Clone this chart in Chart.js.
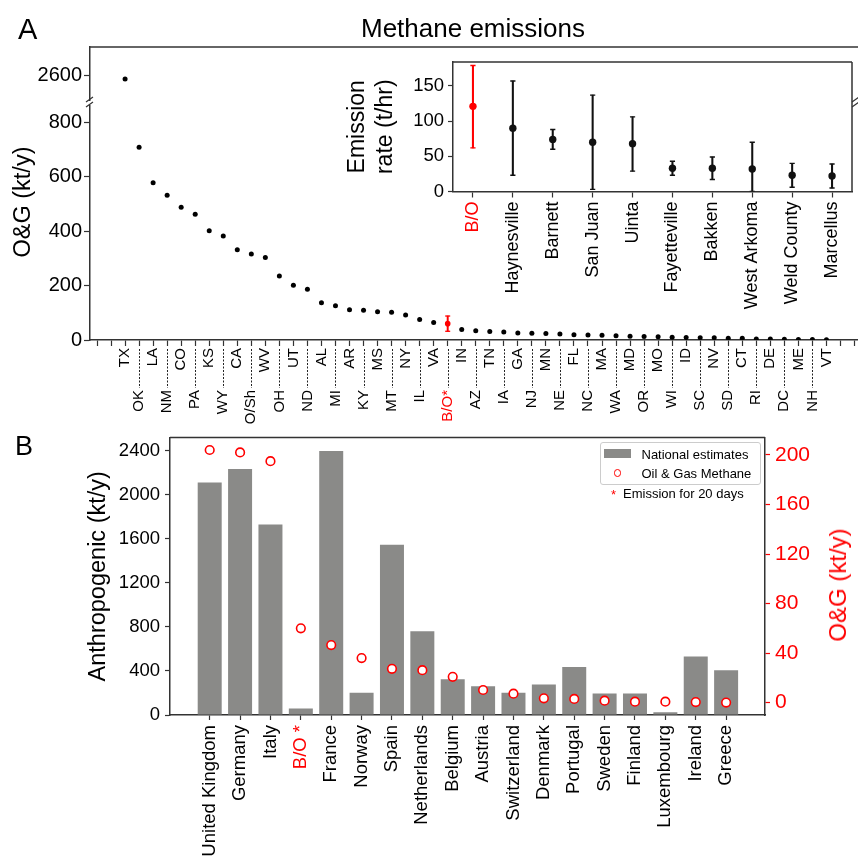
<!DOCTYPE html>
<html>
<head>
<meta charset="utf-8">
<script src="https://cdn.jsdelivr.net/npm/chart.js@4.4.0/dist/chart.umd.min.js"></script>
<style>
html,body{margin:0;padding:0;background:#fff;}
#wrap{position:relative;width:858px;height:867px;overflow:hidden;font-family:'Liberation Sans',Arial,sans-serif;color:#000;background:#fff;}
canvas{position:absolute;}
.lbl{position:absolute;white-space:nowrap;line-height:1;}
.rot{position:absolute;white-space:nowrap;line-height:1;transform:translate(-50%,-50%) rotate(-90deg);}
</style>
</head>
<body>
<div id="wrap">
  <canvas id="cA" width="858" height="430" style="left:0;top:0"></canvas>
  <canvas id="cIn" width="528" height="280" style="left:330px;top:40px"></canvas>
  <canvas id="cB" width="858" height="447" style="left:0;top:420px"></canvas>

  <div class="lbl" style="left:18px;top:14.5px;font-size:29px">A</div>
  <div class="lbl" style="left:361px;top:15.3px;font-size:26px">Methane emissions</div>
  <div class="rot" style="left:23px;top:202px;font-size:23.5px">O&amp;G (kt/y)</div>

  <div class="lbl" style="left:15px;top:433px;font-size:27px">B</div>
  <div class="rot" style="left:838px;top:585px;font-size:24px;color:#ff0000">O&amp;G (kt/y)</div>

  <div style="position:absolute;left:599.5px;top:442px;width:159px;height:41px;border:1px solid #cccccc;border-radius:3px;background:rgba(255,255,255,0.85)"></div>
  <div style="position:absolute;left:604px;top:448.5px;width:26.5px;height:9px;background:#8a8a88"></div>
  <div class="lbl" style="left:641.5px;top:447.5px;font-size:13px">National estimates</div>
  <div style="position:absolute;left:613.8px;top:469.3px;width:5.6px;height:5.6px;border:1.6px solid #ff0000;border-radius:50%"></div>
  <div class="lbl" style="left:641.5px;top:467px;font-size:13px">Oil &amp; Gas Methane</div>
  <div class="lbl" style="left:611px;top:488px;font-size:13px;color:#ff0000">*</div>
  <div class="lbl" style="left:623px;top:487.3px;font-size:13px">Emission for 20 days</div>
</div>

<script>
// ---------------- DATA ----------------
// Panel A: O&G methane emissions by US state (kt/y)
const usStates = ['TX','OK','LA','NM','CO','PA','KS','WY','CA','O/Sh','WV','OH','UT','ND','AL','MI','AR','KY','MS','MT','NY','IL','VA','B/O*','IN','AZ','TN','IA','GA','NJ','MN','NE','FL','NC','MA','WA','MD','OR','MO','WI','ID','SC','NV','SD','CT','RI','DE','DC','ME','NH','VT'];
const usValues = [2585,708,577,531,487,462,401,382,331,316,303,235,201,186,137,126,111,109,104,102,92,75,64,60,39,34,31,29,26,25,24,22,19,18,17,16,14,13,12,10,9,8.5,8,6.5,6,4,3.5,2.5,2.2,1.5,1.2];
const boRangeA = [32, 88];
const lowerTicksA = [0, 200, 400, 600, 800];
const upperTicksA = [2600];

// Panel A inset: emission rate by basin (t/hr)
const basins = ['B/O','Haynesville','Barnett','San Juan','Uinta','Fayetteville','Bakken','West Arkoma','Weld County','Marcellus'];
const basinRate = [121, 90, 74, 70, 68, 33, 33, 32, 23, 22];
const basinLow  = [62, 23, 60, 3, 29, 23, 17, 0, 6, 5];
const basinHigh = [179, 157, 88, 137, 106, 43, 49, 70, 40, 39];
const insetTicks = [0, 50, 100, 150];

// Panel B: European countries
const countries = ['United Kingdom','Germany','Italy','B/O *','France','Norway','Spain','Netherlands','Belgium','Austria','Switzerland','Denmark','Portugal','Sweden','Finland','Luxembourg','Ireland','Greece'];
const nationalEst = [2112, 2235, 1730, 60, 2398, 201, 1546, 761, 325, 262, 201, 277, 436, 196, 196, 24, 532, 406];
const ogMethane  = [204, 202, 195, 60, 46.5, 36, 27.3, 26.2, 20.8, 10.2, 7.2, 3.5, 3.0, 1.6, 0.8, 0.8, 0.4, 0];
const leftTicksB = [0, 400, 800, 1200, 1600, 2000, 2400];
const rightTicksB = [0, 40, 80, 120, 160, 200];

// ---------------- STYLE ----------------
const RED = '#ff0000';
const INK = '#000000';
const AXIS = '#333333';
const GRAY = '#8a8a88';
Chart.defaults.font.family = "'Liberation Sans', Arial, sans-serif";
Chart.defaults.color = INK;

const plain = (v) => String(v);
const fixedTicks = (list) => (s) => { s.ticks = list.map(v => ({value: v})); };

const framePlugin = {
  id: 'frame',
  afterDraw(chart, args, opts) {
    const sides = opts.sides || [];
    const a = chart.chartArea, ctx = chart.ctx;
    ctx.save();
    ctx.strokeStyle = opts.color || AXIS;
    ctx.lineWidth = opts.width || 1.5;
    ctx.beginPath();
    if (sides.includes('top'))    { ctx.moveTo(a.left, a.top);    ctx.lineTo(a.right, a.top); }
    if (sides.includes('right'))  { ctx.moveTo(a.right, a.top);   ctx.lineTo(a.right, a.bottom); }
    if (sides.includes('bottom')) { ctx.moveTo(a.left, a.bottom); ctx.lineTo(a.right, a.bottom); }
    if (sides.includes('left'))   { ctx.moveTo(a.left, a.top);    ctx.lineTo(a.left, a.bottom); }
    ctx.stroke();
    ctx.restore();
  }
};

const breakPlugin = {
  id: 'breakMarks',
  afterDraw(chart) {
    const y = chart.scales.yLow.top;
    const a = chart.chartArea, ctx = chart.ctx;
    [a.left, a.right - 2].forEach(x => {
      ctx.save();
      ctx.fillStyle = '#fff';
      ctx.fillRect(x - 2, y - 2, 4, 4);
      ctx.strokeStyle = AXIS;
      ctx.lineWidth = 1.2;
      ctx.beginPath();
      ctx.moveTo(x - 4, y - 1); ctx.lineTo(x + 3, y - 6);
      ctx.moveTo(x - 4, y + 4); ctx.lineTo(x + 3, y - 1);
      ctx.stroke();
      ctx.restore();
    });
  }
};

const leaderPlugin = {
  id: 'leaders',
  afterDraw(chart) {
    const xt = chart.scales.xTop, xb = chart.scales.xBot, ctx = chart.ctx;
    ctx.save();
    ctx.strokeStyle = '#222';
    ctx.lineWidth = 1;
    ctx.setLineDash([2, 1.5]);
    ctx.beginPath();
    usStates.forEach((s, i) => {
      if (i % 2 === 1) {
        const x = Math.round(xt.getPixelForValue(i)) + 0.5;
        ctx.moveTo(x, xt.top + 9);
        ctx.lineTo(x, xb.top + 8);
      }
    });
    ctx.stroke();
    ctx.restore();
  }
};

// ---------------- PANEL A ----------------
const boIdx = usStates.indexOf('B/O*');
const breakValue = 1000;
const lowPts = [], highPts = [];
usValues.forEach((v, i) => {
  if (i === boIdx) return;
  (v > breakValue ? highPts : lowPts).push({x: i, y: v});
});

const xCommon = (rowParity, height) => ({
  type: 'linear', position: 'bottom', min: -2.5, max: 52.25, offset: false,
  afterFit: (s) => { s.height = height; s.paddingLeft = 0; s.paddingRight = 0; },
  ticks: {
    stepSize: 1, autoSkip: false, includeBounds: false, minRotation: 90, maxRotation: 90,
    font: {size: 15},
    color: (c) => usStates[c.tick.value] === 'B/O*' ? RED : INK,
    callback: (v) => (Number.isInteger(v) && v >= 0 && v < usStates.length && v % 2 === rowParity) ? usStates[v] : ''
  }
});

const xTop = xCommon(0, 40);
xTop.weight = 0;
xTop.grid = {drawOnChartArea: false, drawTicks: true, offset: false, tickLength: 6, tickColor: AXIS, tickWidth: 1.2};
xTop.border = {display: true, color: AXIS, width: 1.5};
xTop.ticks.padding = 2;

const xBot = xCommon(1, 50);
xBot.weight = 1;
xBot.grid = {display: false, drawTicks: false, offset: false};
xBot.border = {display: false};
xBot.ticks.padding = 10;

const yAxisA = (min, max, ticks, weight) => ({
  type: 'linear', position: 'left', stack: 'og', stackWeight: weight, min, max,
  afterFit: (s) => { s.width = 90; },
  afterBuildTicks: fixedTicks(ticks),
  grid: {drawOnChartArea: false, tickLength: 6, tickColor: AXIS, tickWidth: 1.2},
  border: {color: AXIS, width: 1.5},
  ticks: {font: {size: 20}, padding: 2, color: INK, callback: plain}
});

new Chart(document.getElementById('cA'), {
  type: 'scatter',
  data: {
    datasets: [
      {label: 'B/O*', data: [{x: boIdx, y: usValues[boIdx]}], xAxisID: 'xTop', yAxisID: 'yLow',
       pointRadius: 2.8, pointBackgroundColor: RED, pointBorderWidth: 0, order: 0},
      {label: 'B/O* range ends', data: [{x: boIdx, y: boRangeA[0]}, {x: boIdx, y: boRangeA[1]}], xAxisID: 'xTop', yAxisID: 'yLow',
       pointStyle: 'line', pointRadius: 2.5, pointBorderColor: RED, pointBorderWidth: 1.3, order: 1},
      {type: 'bar', label: 'B/O* range', data: [{x: boIdx, y: boRangeA}], xAxisID: 'xTop', yAxisID: 'yLow',
       barThickness: 1.3, backgroundColor: RED, order: 2},
      {label: 'O&G', data: lowPts, xAxisID: 'xTop', yAxisID: 'yLow',
       pointRadius: 2.5, pointBackgroundColor: INK, pointBorderWidth: 0, order: 0},
      {label: 'O&G (upper)', data: highPts, xAxisID: 'xTop', yAxisID: 'yHigh',
       pointRadius: 2.5, pointBackgroundColor: INK, pointBorderWidth: 0, order: 0}
    ]
  },
  options: {
    responsive: false, animation: false, events: [],
    layout: {autoPadding: false, padding: {top: 47, right: 0, bottom: 0, left: 0}},
    plugins: {legend: {display: false}, tooltip: {enabled: false}, frame: {sides: ['top'], color: AXIS, width: 1.5}},
    scales: {
      xTop: xTop,
      xBot: xBot,
      yLow: yAxisA(0, 870, lowerTicksA, 237),
      yHigh: yAxisA(2497, 2703, upperTicksA, 56)
    }
  },
  plugins: [framePlugin, breakPlugin, leaderPlugin]
});

// ---------------- INSET ----------------
const basinColors = basins.map(b => b === 'B/O' ? RED : '#111111');
new Chart(document.getElementById('cIn'), {
  type: 'bar',
  data: {
    labels: basins,
    datasets: [
      {type: 'line', label: 'Emission rate', data: basinRate, showLine: false, pointRadius: 3.7,
       pointBackgroundColor: basinColors, pointBorderWidth: 0, order: 0},
      {type: 'line', label: 'Lower', data: basinLow, showLine: false, pointStyle: 'line', pointRadius: 2.6,
       pointBorderColor: basinColors, pointBorderWidth: 1.4, order: 1},
      {type: 'line', label: 'Upper', data: basinHigh, showLine: false, pointStyle: 'line', pointRadius: 2.6,
       pointBorderColor: basinColors, pointBorderWidth: 1.4, order: 1},
      {type: 'bar', label: 'Range', data: basins.map((b, i) => [basinLow[i], basinHigh[i]]),
       barThickness: 1.4, backgroundColor: basinColors, order: 3}
    ]
  },
  options: {
    responsive: false, animation: false, events: [],
    layout: {autoPadding: false, padding: {top: 22, right: 6, bottom: 0, left: 0}},
    plugins: {legend: {display: false}, tooltip: {enabled: false}, frame: {sides: ['top', 'right'], color: AXIS, width: 1.5}},
    scales: {
      x: {
        type: 'category', offset: true,
        afterFit: (s) => { s.height = 128.5; s.paddingLeft = 0; s.paddingRight = 0; },
        grid: {drawOnChartArea: false, offset: false, tickLength: 6, tickColor: AXIS, tickWidth: 1.2},
        border: {color: AXIS, width: 1.5},
        ticks: {autoSkip: false, minRotation: 90, maxRotation: 90, padding: 4, font: {size: 18},
                color: (c) => basins[c.index] === 'B/O' ? RED : INK}
      },
      y: {
        min: 0, max: 184,
        afterFit: (s) => { s.width = 123; },
        afterBuildTicks: fixedTicks(insetTicks),
        grid: {drawOnChartArea: false, tickLength: 5, tickColor: AXIS, tickWidth: 1.2},
        border: {color: AXIS, width: 1.5},
        ticks: {font: {size: 18.5}, padding: 4, color: INK, callback: plain},
        title: {display: true, text: ['Emission', 'rate (t/hr)'], font: {size: 23}, padding: {top: 14, bottom: 0}, color: INK}
      }
    }
  },
  plugins: [framePlugin]
});

// ---------------- PANEL B ----------------
const boIdxB = countries.indexOf('B/O *');
new Chart(document.getElementById('cB'), {
  type: 'bar',
  data: {
    datasets: [
      {type: 'line', label: 'Oil & Gas Methane', data: countries.map((c, i) => ({x: i, y: ogMethane[i]})),
       xAxisID: 'x', yAxisID: 'yR', showLine: false, pointRadius: 4.3, pointBorderColor: RED, pointBorderWidth: 1.6,
       pointBackgroundColor: '#ffffff', order: 0},
      {type: 'bar', label: 'National estimates', data: countries.map((c, i) => ({x: i, y: nationalEst[i]})),
       xAxisID: 'x', yAxisID: 'yL', backgroundColor: GRAY, barPercentage: 0.79, categoryPercentage: 1, order: 1}
    ]
  },
  options: {
    responsive: false, animation: false, events: [],
    layout: {autoPadding: false, padding: {top: 15.7, right: 0, bottom: 0, left: 70}},
    plugins: {legend: {display: false}, tooltip: {enabled: false}, frame: {sides: ['top'], color: AXIS, width: 1.5}},
    scales: {
      x: {
        type: 'linear', position: 'bottom', min: -1.307, max: 18.28, offset: false,
        afterBuildTicks: (s) => { s.ticks = countries.map((c, i) => ({value: i})); },
        afterFit: (s) => { s.height = 152; s.paddingLeft = 0; s.paddingRight = 0; },
        grid: {drawOnChartArea: false, offset: false, tickLength: 5, tickColor: AXIS, tickWidth: 1.2},
        border: {color: AXIS, width: 1.5},
        ticks: {autoSkip: false, minRotation: 90, maxRotation: 90, padding: 5, font: {size: 18.5},
                color: (c) => c.tick.value === boIdxB ? RED : INK,
                callback: (v) => countries[v] !== undefined ? countries[v] : ''}
      },
      yL: {
        type: 'linear', position: 'left', min: 0, max: 2520,
        afterFit: (s) => { s.width = 100; },
        afterBuildTicks: fixedTicks(leftTicksB),
        grid: {drawOnChartArea: false, tickLength: 5, tickColor: AXIS, tickWidth: 1.2},
        border: {color: AXIS, width: 1.5},
        ticks: {font: {size: 18.5}, padding: 5, color: INK, callback: plain},
        title: {display: true, text: 'Anthropogenic (kt/y)', font: {size: 23.5}, padding: {top: 14, bottom: 0}, color: INK}
      },
      yR: {
        type: 'linear', position: 'right', min: -10, max: 214,
        afterFit: (s) => { s.width = 93; },
        afterBuildTicks: fixedTicks(rightTicksB),
        grid: {drawOnChartArea: false, tickLength: 5, tickColor: RED, tickWidth: 1.2},
        border: {color: AXIS, width: 1.5},
        ticks: {font: {size: 21}, padding: 5, color: RED, callback: plain}
      }
    }
  },
  plugins: [framePlugin]
});
</script>
</body>
</html>
